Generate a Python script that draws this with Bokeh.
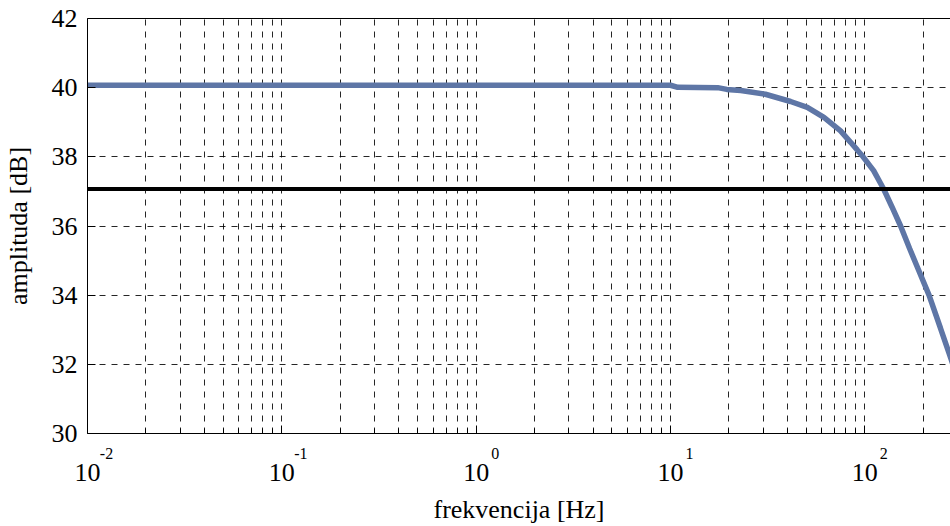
import math
from bokeh.plotting import figure
from bokeh.models import FixedTicker, LogAxis, Span, Range1d, LogScale
from bokeh.embed import file_html
from bokeh.resources import INLINE

# ---- data ----
freq_hz = [0.01, 0.1, 1.0, 10.0, 10.9, 17.5, 19.5, 23.0, 30.8, 41.5, 50.6, 61.6,
           75.0, 84.5, 91.4, 98.0, 111.0, 125.0, 138.0, 152.8, 170.0, 186.0, 214.0,
           245.0, 276.0, 290.0]
amp_db = [40.07, 40.07, 40.07, 40.07, 40.01, 40.0, 39.95, 39.92, 39.81, 39.60, 39.43, 39.14,
          38.75, 38.42, 38.2, 38.0, 37.60, 37.07, 36.55, 36.0, 35.35, 34.82, 34.0,
          33.05, 32.2, 31.85]
cutoff_db = 37.07
x_decades = [0.01, 0.1, 1, 10, 100]
x_exponents = ["-2", "-1", "0", "1", "2"]
x_base = ["10", "10", "10", "10", "10"]
x_max = 276
y_ticks = [30, 32, 34, 36, 38, 40, 42]
y_labels = ["30", "32", "34", "36", "38", "40", "42"]

FONT = "Liberation Serif"
FONT_Q = "'Liberation Serif'"
FRAME_W, FRAME_H = 863, 415

p = figure(frame_width=FRAME_W, frame_height=FRAME_H, x_axis_type="log",
           x_range=(x_decades[0], x_max), y_range=(y_ticks[0], y_ticks[-1]),
           output_backend="svg", toolbar_location=None,
           min_border_left=87, min_border_right=0, min_border_top=18, min_border_bottom=90)
p.outline_line_color = None
p.background_fill_color = "white"
p.border_fill_color = "white"

minor = [m * d for d in x_decades for m in range(2, 10)]
xt = FixedTicker(ticks=x_decades, minor_ticks=minor)
yt = FixedTicker(ticks=y_ticks)
p.xaxis.ticker = xt
p.yaxis.ticker = yt
p.xgrid.ticker = xt
p.ygrid.ticker = yt

for g in (p.xgrid, p.ygrid):
    g.grid_line_color = "black"
    g.grid_line_dash = "6 6"
    g.grid_line_width = 1
    g.grid_line_alpha = 0.85
p.xgrid.minor_grid_line_color = "black"
p.xgrid.minor_grid_line_dash = "6 6"
p.xgrid.minor_grid_line_alpha = 0.85

# main bottom axis: line and ticks only
xa = p.xaxis[0]
xa.major_label_overrides = {t: "" for t in x_decades}
xa.major_label_text_font_size = "0px"
xa.major_label_standoff = 0
xa.major_tick_in = 8
xa.major_tick_out = 0
xa.minor_tick_in = 5
xa.minor_tick_out = 0
xa.axis_line_color = "black"
xa.major_tick_line_color = "black"
xa.minor_tick_line_color = "black"

# exponent axis on a slightly shifted log range
span_dec = math.log10(x_max / x_decades[0])
px_per_dec = FRAME_W / span_dec


def shifted_range(px):
    f = 10 ** (px / px_per_dec)
    return Range1d(x_decades[0] / f, x_max / f)


p.extra_x_ranges = {"exp": shifted_range(19)}
p.extra_x_scales = {"exp": LogScale()}

label_ticker = FixedTicker(ticks=x_decades)

exp_axis = LogAxis(x_range_name="exp", ticker=label_ticker,
                   major_label_overrides=dict(zip(x_decades, x_exponents)),
                   major_label_text_font=FONT_Q, major_label_text_font_size="16px",
                   major_label_text_color="black", major_label_standoff=14,
                   major_tick_in=0, major_tick_out=0, minor_tick_in=0, minor_tick_out=0,
                   axis_line_color=None)
p.add_layout(exp_axis, "below")

base_axis = LogAxis(ticker=label_ticker,
                    major_label_overrides=dict(zip(x_decades, x_base)),
                    major_label_text_font=FONT_Q, major_label_text_font_size="26px",
                    major_label_text_color="black", major_label_standoff=2,
                    major_tick_in=0, major_tick_out=0, minor_tick_in=0, minor_tick_out=0,
                    axis_line_color=None,
                    axis_label="frekvencija [Hz]", axis_label_text_font=FONT,
                    axis_label_text_font_size="26px", axis_label_text_font_style="normal",
                    axis_label_text_color="black", axis_label_standoff=11)
p.add_layout(base_axis, "below")

ya = p.yaxis[0]
ya.major_label_overrides = dict(zip(y_ticks, y_labels))
ya.major_label_text_font = FONT_Q
ya.major_label_text_font_size = "26px"
ya.major_label_text_color = "black"
ya.major_label_standoff = 10
ya.major_tick_in = 8
ya.major_tick_out = 0
ya.minor_tick_in = 0
ya.minor_tick_out = 0
ya.axis_line_color = "black"
ya.axis_label = "amplituda [dB]"
ya.axis_label_text_font = FONT
ya.axis_label_text_font_size = "26px"
ya.axis_label_text_font_style = "normal"
ya.axis_label_text_color = "black"
ya.axis_label_standoff = 16

top = LogAxis(ticker=FixedTicker(ticks=[]), major_tick_in=0, major_tick_out=0,
              minor_tick_in=0, minor_tick_out=0, axis_line_color="black")
p.add_layout(top, "above")

# data
p.line(freq_hz, amp_db, line_width=5.5, line_color="#5e76a6")
p.add_layout(Span(location=cutoff_db, dimension="width", line_color="black", line_width=4))

open("out.html", "w").write(file_html(p, INLINE))
